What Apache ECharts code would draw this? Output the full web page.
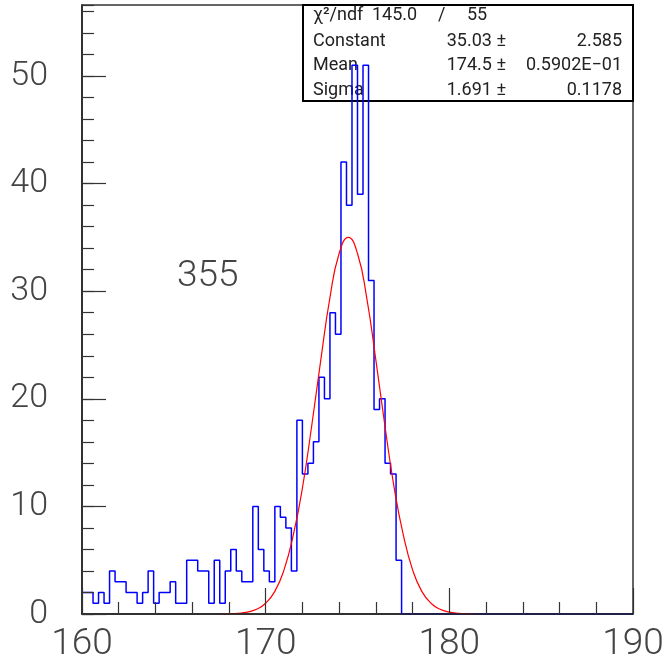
<!DOCTYPE html>
<html>
<head>
<meta charset="utf-8">
<script src="https://cdn.jsdelivr.net/npm/echarts@6/dist/echarts.min.js"></script>
<style>
  html, body { margin: 0; padding: 0; background: #fff; }
  #chart { width: 667px; height: 667px; }
</style>
</head>
<body>
<div id="chart"></div>
<script>
// histogram: 100 bins of 0.3 from 160 to 190
const binStart = 160;
const binWidth = 0.3;
const counts = [
  2, 2, 1, 2, 1, 4, 3, 3, 2, 2,
  1, 2, 4, 1, 2, 2, 3, 1, 1, 5,
  5, 4, 4, 1, 5, 1, 4, 6, 4, 3,
  3, 10, 6, 4, 3, 10, 9, 8, 4, 18,
  13, 14, 16, 22, 20, 28, 26, 42, 38, 51,
  39, 51, 31, 19, 20, 14, 13, 5, 0, 0,
  0, 0, 0, 0, 0, 0, 0, 0, 0, 0,
  0, 0, 0, 0, 0, 0, 0, 0, 0, 0,
  0, 0, 0, 0, 0, 0, 0, 0, 0, 0,
  0, 0, 0, 0, 0, 0, 0, 0, 0, 0
];

// fitted gaussian, every 0.5 from 167.5
const fitStart = 167.5;
const fitStep = 0.5;
const fitValues = [
  0.0, 0.02, 0.07, 0.18, 0.44, 1.0, 2.1, 4.1, 7.3, 11.7,
  17.4, 23.6, 29.4, 33.5, 35.0, 33.5, 29.4, 23.6, 17.4, 11.7,
  7.3, 4.1, 2.1, 1.0, 0.44, 0.18, 0.07, 0.02, 0.0
];

const xTicks = [160, 170, 180, 190];
const yTicks = [0, 10, 20, 30, 40, 50];

const statsRows = [
  ["Constant", "35.03 \u00b1", "2.585"],
  ["Mean", "174.5 \u00b1", "0.5902E\u221201"],
  ["Sigma", "1.691 \u00b1", "0.1178"]
];
const entriesLabel = "355";

const histData = counts.map((c, i) => [binStart + i * binWidth, c]);
histData.push([binStart + counts.length * binWidth, counts[counts.length - 1]]);
const fitData = fitValues.map((v, i) => [fitStart + i * fitStep, v]);

const font = "Roboto, 'DejaVu Sans', sans-serif";
const boxFont = "18px " + font;
const chart = echarts.init(document.getElementById("chart"));

const statsText = [];
statsText.push(
  { type: "text", left: 313, top: 6, style: { text: "\u03c7\u00b2/ndf", font: boxFont, fill: "#222" } },
  { type: "text", left: 372, top: 6, style: { text: "145.0", font: boxFont, fill: "#222" } },
  { type: "text", left: 438, top: 6, style: { text: "/", font: boxFont, fill: "#222" } },
  { type: "text", left: 467, top: 6, style: { text: "55", font: boxFont, fill: "#222" } }
);
statsRows.forEach((r, i) => {
  const top = 32 + i * 24.5;
  statsText.push(
    { type: "text", left: 313, top: top, style: { text: r[0], font: boxFont, fill: "#222" } },
    { type: "text", right: 667 - 506, top: top, style: { text: r[1], font: boxFont, fill: "#222" } },
    { type: "text", right: 667 - 622, top: top, style: { text: r[2], font: boxFont, fill: "#222" } }
  );
});

chart.setOption({
  animation: false,
  grid: {
    left: 82, right: 34, top: 5, bottom: 53,
    show: true, borderColor: "#333", borderWidth: 1.5, backgroundColor: "transparent"
  },
  xAxis: {
    type: "value",
    min: xTicks[0],
    max: xTicks[xTicks.length - 1],
    interval: 10,
    z: 5,
    axisLine: { lineStyle: { color: "#222", width: 1.5 } },
    axisTick: { inside: true, length: 26, lineStyle: { color: "#333", width: 1.2 } },
    minorTick: { show: true, splitNumber: 5, length: 12, lineStyle: { color: "#333", width: 1.2 } },
    splitLine: { show: false },
    axisLabel: {
      margin: 12,
      fontFamily: font,
      fontSize: 37,
      fontWeight: 300,
      color: "#444"
    }
  },
  yAxis: [
    {
      type: "value",
      min: 0,
      max: 56.6,
      interval: 10,
      z: 5,
      axisLine: { show: true, lineStyle: { color: "#222", width: 1.5 } },
      axisTick: { inside: true, length: 24, lineStyle: { color: "#333", width: 1.2 } },
      splitLine: { show: false },
      axisLabel: {
        margin: 34,
        showMaxLabel: false,
        fontFamily: font,
        fontSize: 34,
        fontWeight: 300,
        color: "#444",
        formatter: (v) => (yTicks.includes(v) ? String(v) : "")
      }
    },
    {
      type: "value",
      min: 0,
      max: 56.6,
      interval: 2,
      position: "left",
      z: 5,
      axisLine: { show: false },
      axisTick: { inside: true, length: 12, lineStyle: { color: "#333", width: 1.2 } },
      splitLine: { show: false },
      axisLabel: { show: false }
    }
  ],
  series: [
    {
      type: "line",
      data: histData,
      step: "end",
      symbol: "none",
      lineStyle: { color: "#0000ff", width: 1.5 },
      z: 2
    },
    {
      type: "line",
      data: fitData,
      smooth: 0.5,
      symbol: "none",
      lineStyle: { color: "#ff0000", width: 1.2 },
      z: 3
    }
  ],
  graphic: [
    {
      type: "rect",
      shape: { x: 303, y: 5, width: 330, height: 96 },
      style: { fill: "none", stroke: "#000", lineWidth: 2 },
      z: 1
    },
    {
      type: "text",
      left: 177,
      top: 258,
      style: { text: entriesLabel, font: "300 37px " + font, fill: "#444" }
    }
  ].concat(statsText)
});
</script>
</body>
</html>
